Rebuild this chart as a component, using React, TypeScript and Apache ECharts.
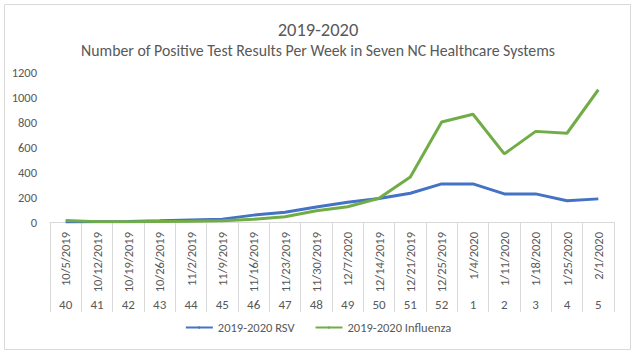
import React, { useEffect, useRef } from "react";
import * as echarts from "echarts";

const dates = ["10/5/2019", "10/12/2019", "10/19/2019", "10/26/2019", "11/2/2019", "11/9/2019", "11/16/2019", "11/23/2019", "11/30/2019", "12/7/2020", "12/14/2019", "12/21/2019", "12/25/2019", "1/4/2020", "1/11/2020", "1/18/2020", "1/25/2020", "2/1/2020"];
const weeks = ["40", "41", "42", "43", "44", "45", "46", "47", "48", "49", "50", "51", "52", "1", "2", "3", "4", "5"];
const rsv = [0, 2, 4, 10, 17, 23, 55, 78, 120, 158, 188, 230, 305, 305, 225, 225, 170, 185];
const flu = [12, 3, 2, 4, 6, 10, 22, 42, 90, 122, 190, 360, 800, 862, 545, 725, 710, 1058];
const yTicks = { min: 0, max: 1200, interval: 200 };

const FONT = "Carlito, Calibri, 'Liberation Sans', sans-serif";
const GREY = "#595959";

export default function App() {
  const ref = useRef<HTMLDivElement>(null);
  useEffect(() => {
    if (!ref.current) return;
    const chart = echarts.init(ref.current, undefined, { renderer: "svg" });
    chart.setOption({
      animation: false,
      backgroundColor: "#ffffff",
      textStyle: { fontFamily: FONT },
      graphic: [
        {
          type: "rect",
          shape: { x: 4.5, y: 4.5, width: 626, height: 345 },
          style: { fill: "none", stroke: "#d9d9d9", lineWidth: 1 },
          silent: true,
        },
      ],
      title: [
        {
          text: "2019-2020",
          left: "center",
          top: 15,
          textStyle: { fontFamily: FONT, fontSize: 18.5, fontWeight: "normal", color: GREY },
        },
        {
          text: "Number of Positive Test Results Per Week in Seven NC Healthcare Systems",
          left: "center",
          top: 37,
          textStyle: { fontFamily: FONT, fontSize: 15.8, fontWeight: "normal", color: GREY },
        },
      ],
      legend: {
        bottom: 17,
        left: "center",
        itemWidth: 27,
        itemHeight: 3,
        itemGap: 20,
        textStyle: { fontFamily: FONT, fontSize: 12.5, color: GREY },
        data: ["2019-2020 RSV", "2019-2020 Influenza"],
      },
      grid: { left: 50, right: 22, top: 72, bottom: 134, containLabel: false },
      xAxis: [
        {
          type: "category",
          data: dates,
          boundaryGap: true,
          axisLine: { show: true, lineStyle: { color: "#d9d9d9", width: 1 } },
          axisTick: { show: true, interval: 0, length: 90, lineStyle: { color: "#d9d9d9" } },
          axisLabel: { interval: 0, rotate: 90, margin: 10, fontSize: 12.5, color: GREY, fontFamily: FONT },
        },
        {
          type: "category",
          data: weeks,
          position: "bottom",
          boundaryGap: true,
          axisLine: { show: false },
          axisTick: { show: false },
          axisLabel: { interval: 0, margin: 76, fontSize: 13, color: GREY, fontFamily: FONT },
        },
      ],
      yAxis: {
        type: "value",
        min: yTicks.min,
        max: yTicks.max,
        interval: yTicks.interval,
        axisLine: { show: false },
        axisTick: { show: false },
        splitLine: { show: false },
        axisLabel: {
          margin: 13,
          fontSize: 12.5,
          color: GREY,
          fontFamily: FONT,
          formatter: (v: number) => String(v),
        },
      },
      series: [
        {
          name: "2019-2020 RSV",
          type: "line",
          data: rsv,
          xAxisIndex: 0,
          symbol: "none",
          lineStyle: { color: "#4472C4", width: 3 },
          itemStyle: { color: "#4472C4" },
        },
        {
          name: "2019-2020 Influenza",
          type: "line",
          data: flu,
          xAxisIndex: 0,
          symbol: "none",
          lineStyle: { color: "#70AD47", width: 3 },
          itemStyle: { color: "#70AD47" },
        },
      ],
    });
    return () => chart.dispose();
  }, []);
  return (
    <div
      ref={ref}
      style={{ position: "fixed", left: 0, top: 0, width: 636, height: 356 }}
    />
  );
}
